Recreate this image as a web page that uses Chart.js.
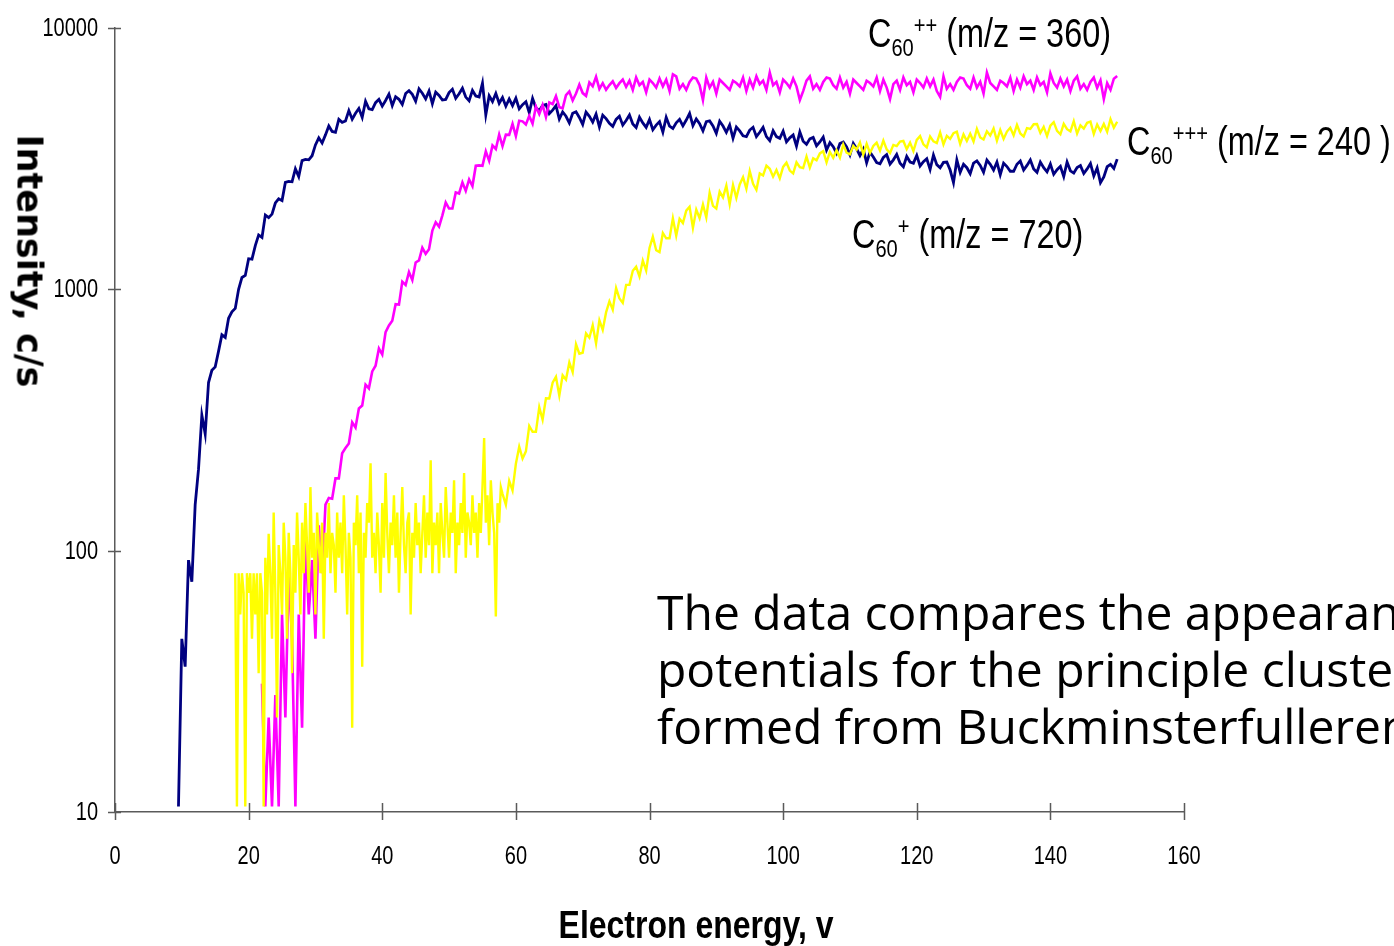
<!DOCTYPE html>
<html>
<head>
<meta charset="utf-8">
<title>C60 appearance potentials</title>
<script src="https://cdn.jsdelivr.net/npm/chart.js@4.4.0/dist/chart.umd.min.js"></script>
<style>
  html, body { margin: 0; padding: 0; background: #fff; overflow: hidden; }
  #wrap { position: relative; width: 1394px; height: 946px; overflow: hidden; }
  #chart { position: absolute; left: 0; top: 0; }
  .ion { position: absolute; font-family: 'Liberation Sans', sans-serif; font-size: 40px; line-height: 1; color: #000; white-space: nowrap; transform: scaleX(0.81); transform-origin: left top; }
  .ion sub, .ion sup { font-size: 62%; line-height: 0; }
  #note { position: absolute; left: 657px; top: 583px; font-family: 'Open Sans', sans-serif; font-size: 48px; line-height: 57px; color: #000; white-space: nowrap; }
  #ytitle { position: absolute; left: 29px; top: 261px; transform: translate(-50%, -50%) rotate(90deg); font-family: 'DejaVu Sans', sans-serif; font-weight: bold; font-size: 35px; line-height: 1; white-space: nowrap; }
  #xtitle { position: absolute; left: 696px; top: 905px; transform: translateX(-50%) scaleX(0.82); font-family: 'Liberation Sans', sans-serif; font-weight: bold; font-size: 39px; line-height: 1; white-space: nowrap; }
</style>
</head>
<body>
<div id="wrap">
  <canvas id="chart" width="1394" height="946"></canvas>
  <div class="ion" style="left:868px; top:13px;">C<sub>60</sub><sup>++</sup> (m/z = 360)</div>
  <div class="ion" style="left:1127px; top:121px;">C<sub>60</sub><sup>+++</sup> (m/z = 240 )</div>
  <div class="ion" style="left:852px; top:214px;">C<sub>60</sub><sup>+</sup> (m/z = 720)</div>
  <div id="note">The data compares the appearance<br>potentials for the principle clusters<br>formed from Buckminsterfullerene</div>
  <div id="ytitle">Intensity, c/s</div>
  <div id="xtitle">Electron energy, v</div>
</div>
<script>
// electron energy sampling (eV): start and step of each block of readings
const singleStart = 9.5;       // C60+, every 0.5 eV
const doubleStart = 22;        // C60++, every 0.5 eV
const tripleLowStart = 18;     // C60+++ noisy threshold part, every 0.25 eV
const tripleHighStart = 58;    // C60+++ from 58 eV on, every 0.5 eV
const coarseStep = 0.5;
const fineStep = 0.25;

const xTicks = [0, 20, 40, 60, 80, 100, 120, 140, 160];
const yTicks = [10, 100, 1000, 10000];

// C60+ (m/z = 720), counts per second
const singleIntensity = [
  10.5, 46, 36, 92, 76, 150, 205, 330, 280, 440,
  490, 505, 580, 670, 655, 775, 820, 845, 1000, 1110,
  1130, 1310, 1305, 1470, 1615, 1580, 1925, 1880, 1940, 2140,
  2220, 2185, 2565, 2590, 2580, 2890, 2700, 3110, 3140, 3130,
  3245, 3570, 3800, 3630, 3900, 4220, 4020, 3990, 4470, 4355,
  4410, 4830, 4475, 4720, 4925, 4550, 5245, 4910, 4870, 5180,
  5335, 5025, 5280, 5585, 5045, 5455, 5335, 5095, 5615, 5755,
  5575, 5245, 5850, 5630, 5355, 5740, 5135, 5685, 5520, 5300,
  5330, 5660, 5830, 5385, 5605, 5885, 5440, 5270, 5770, 5495,
  5450, 6150, 4650, 5500, 5230, 5620, 5150, 5420, 5020, 5350,
  5045, 5385, 4905, 5090, 5220, 4745, 5380, 4950, 4830, 5050,
  5095, 4705, 4850, 5045, 4485, 4775, 4595, 4335, 4715, 4780,
  4545, 4275, 4770, 4590, 4365, 4680, 4185, 4635, 4500, 4320,
  4205, 4470, 4600, 4250, 4425, 4645, 4290, 4160, 4555, 4335,
  4165, 4465, 4080, 4250, 4380, 3995, 4550, 4210, 4125, 4335,
  4470, 4220, 4445, 4715, 4230, 4490, 4305, 4040, 4380, 4410,
  4220, 3950, 4400, 4215, 3985, 4255, 3785, 4180, 4040, 3870,
  3840, 4070, 4170, 3840, 3990, 4165, 3840, 3705, 4045, 3840,
  3785, 4030, 3665, 3800, 3895, 3535, 4000, 3685, 3590, 3765,
  3815, 3540, 3665, 3825, 3410, 3640, 3515, 3320, 3615, 3665,
  3505, 3270, 3615, 3450, 3250, 3440, 3050, 3350, 3210, 3055,
  3025, 3195, 3275, 3015, 3130, 3285, 3040, 2945, 3225, 3070,
  3040, 3255, 2965, 3080, 3160, 2875, 3265, 3000, 2920, 3060,
  3070, 2860, 2560, 3125, 2800, 3010, 2920, 2770, 3040, 3100,
  2980, 2805, 3125, 3010, 2860, 3070, 2745, 3040, 2950, 2830,
  2830, 3010, 3100, 2860, 2980, 3125, 2890, 2805, 3070, 2920,
  2815, 3015, 2755, 2870, 2955, 2700, 3070, 2840, 2785, 2925,
  2975, 2775, 2890, 3030, 2715, 2915, 2560, 2690, 2945, 3005,
  2900, 3150
];

// C60++ (m/z = 360)
const doubleIntensity = [
  31, 10.5, 23, 10.5, 28, 10.5, 57, 23, 82, 46,
  10.5, 57, 21, 116, 57, 92, 46, 125, 82, 150,
  159, 158, 189, 189, 236, 247, 257, 310, 296, 350,
  359, 432, 418, 485, 510, 594, 563, 686, 727, 758,
  877, 874, 1070, 1039, 1165, 1086, 1267, 1290, 1442, 1368,
  1423, 1679, 1806, 1738, 1919, 2149, 2038, 2040, 2350, 2327,
  2565, 2381, 2632, 2484, 2972, 2980, 2968, 3371, 3102, 3554,
  3444, 3910, 3534, 3907, 3901, 4293, 3860, 4420, 4394, 4272,
  4610, 4305, 5008, 4684, 5075, 4563, 5191, 5110, 5491, 4978,
  4929, 5531, 5712, 5280, 5616, 6070, 5635, 5499, 6188, 5990,
  6500, 5850, 6150, 5800, 6050, 6250, 5900, 6150, 6350, 5950,
  6285, 5795, 6465, 6040, 6220, 5675, 6345, 6160, 5915, 6405,
  5980, 6345, 5735, 6650, 6530, 5855, 6100, 5795, 6220, 6465,
  6405, 6040, 5300, 6465, 5915, 6220, 5610, 6345, 6160, 5980,
  5795, 6285, 6160, 5980, 6465, 5735, 6345, 5915, 6530, 6100,
  6285, 5795, 6750, 6040, 6220, 5675, 6345, 6160, 5915, 6405,
  5980, 5300, 5735, 6285, 6530, 5855, 6100, 5795, 6220, 6465,
  6405, 6040, 5855, 6465, 5915, 6220, 5610, 6345, 6160, 5980,
  5795, 6285, 6160, 5980, 6465, 5735, 6345, 5915, 5350, 6100,
  6285, 5795, 6465, 6040, 6220, 5675, 6345, 6160, 5915, 6405,
  5980, 6345, 5735, 5450, 6530, 5855, 6100, 5795, 6220, 6465,
  6405, 6040, 5855, 6465, 5915, 6220, 5610, 6750, 6160, 5980,
  5795, 6285, 6160, 5980, 6465, 5735, 6345, 5915, 6530, 6100,
  6285, 5795, 6465, 6040, 6220, 5675, 6700, 6160, 5915, 6405,
  5980, 6345, 5735, 6285, 6530, 5855, 6100, 5795, 6220, 6465,
  5900, 6300, 5350, 6150, 5800, 6400, 6550
];

// C60+++ (m/z = 240), 18 - 57.75 eV: counts near the threshold
const tripleLowIntensity = [
  82, 10.5, 82, 57, 82, 69, 10.5, 82,
  69, 82, 46, 82, 57, 82, 34, 82,
  69, 10.5, 94, 57, 116, 82, 46, 140,
  69, 23, 105, 82, 57, 128, 94, 46,
  117, 82, 34, 105, 69, 140, 94, 57,
  128, 82, 152, 105, 69, 175, 94, 117,
  57, 140, 105, 82, 128, 46, 117, 94,
  152, 82, 117, 105, 69, 140, 94, 128,
  82, 163, 105, 57, 117, 94, 21, 128,
  105, 163, 82, 140, 36, 117, 94, 152,
  128, 216, 94, 117, 82, 140, 105, 69,
  152, 94, 198, 117, 82, 128, 105, 163,
  94, 140, 69, 117, 175, 105, 82, 128,
  140, 57, 117, 94, 152, 105, 128, 82,
  117, 163, 94, 140, 105, 222, 82, 128,
  105, 140, 82, 152, 117, 94, 175, 128,
  94, 140, 117, 186, 82, 128, 105, 152,
  117, 198, 94, 140, 128, 105, 163, 117,
  140, 94, 152, 117, 175, 270, 128, 163,
  105, 186, 140, 117, 56, 152, 128, 175
];

// C60+++ (m/z = 240), 58 - 150 eV
const tripleHighIntensity = [
  165, 150, 185, 170, 215, 250, 225, 240, 300, 285,
  285, 354, 317, 383, 382, 439, 463, 392, 469, 451,
  525, 482, 616, 567, 572, 678, 653, 729, 621, 761,
  699, 816, 899, 836, 1012, 922, 887, 1040, 1040, 1177,
  1220, 1119, 1288, 1179, 1439, 1590, 1411, 1389, 1643, 1568,
  1568, 1870, 1605, 1862, 1793, 2001, 2071, 1718, 2019, 1871,
  2111, 1884, 2342, 2086, 2037, 2364, 2247, 2495, 2115, 2510,
  2236, 2519, 2686, 2423, 2838, 2532, 2402, 2777, 2727, 2976,
  2893, 2697, 2861, 2660, 2941, 3053, 2847, 2779, 3063, 2935,
  2910, 3222, 2921, 3172, 3119, 3312, 3381, 3060, 3356, 3187,
  3407, 3192, 3583, 3332, 3283, 3543, 3425, 3649, 3281, 3605,
  3325, 3535, 3640, 3395, 3710, 3430, 3325, 3570, 3535, 3675,
  3696, 3439, 3641, 3379, 3729, 3858, 3587, 3496, 3848, 3683,
  3628, 3986, 3586, 3866, 3762, 3962, 4011, 3600, 3917, 3696,
  3937, 3677, 4113, 3812, 3744, 4027, 3881, 4127, 3704, 4069,
  3762, 4015, 4150, 3880, 4256, 3949, 3843, 4141, 4111, 4284,
  4289, 3967, 4182, 3859, 4233, 4362, 4038, 3919, 4295, 4099,
  4021, 4399, 3947, 4243, 4123, 4337, 4384, 3929, 4274, 4032,
  4294, 4009, 4484, 4155, 4378
];

const axisColor = '#5a5a5a';
const tickFont = "25px 'Liberation Sans', sans-serif";
const tickSqueeze = 0.8;

function toPoints(start, step, values) {
    return values.map((v, i) => ({ x: start + i * step, y: v }));
}

// crossing tick marks and narrow tick labels, like the original spreadsheet chart
const crossTicks = {
    id: 'crossTicks',
    beforeDatasetsDraw(chart) {
        const { ctx, scales: { x, y } } = chart;
        ctx.save();
        ctx.strokeStyle = axisColor;
        ctx.lineWidth = 1.5;
        ctx.beginPath();
        xTicks.forEach(v => {
            const px = Math.round(x.getPixelForValue(v)) + 0.5;
            ctx.moveTo(px, y.bottom - 9);
            ctx.lineTo(px, y.bottom + 8);
        });
        yTicks.forEach(v => {
            const py = Math.round(y.getPixelForValue(v)) + 0.5;
            ctx.moveTo(x.left - 7, py);
            ctx.lineTo(x.left + 6, py);
        });
        ctx.stroke();

        ctx.fillStyle = '#000';
        ctx.font = tickFont;
        ctx.textBaseline = 'middle';
        xTicks.forEach(v => {
            ctx.save();
            ctx.translate(x.getPixelForValue(v), 857);
            ctx.scale(tickSqueeze, 1);
            ctx.textAlign = 'center';
            ctx.fillText(String(v), 0, 0);
            ctx.restore();
        });
        yTicks.forEach(v => {
            ctx.save();
            ctx.translate(98, y.getPixelForValue(v) + 1);
            ctx.scale(tickSqueeze, 1);
            ctx.textAlign = 'right';
            ctx.fillText(String(v), 0, 0);
            ctx.restore();
        });
        ctx.restore();
    }
};

new Chart(document.getElementById('chart'), {
    type: 'line',
    data: {
        datasets: [{
            label: 'C60+ (m/z = 720)',
            data: toPoints(singleStart, coarseStep, singleIntensity),
            borderColor: '#000080',
            borderWidth: 2.8,
            order: 3
        }, {
            label: 'C60++ (m/z = 360)',
            data: toPoints(doubleStart, coarseStep, doubleIntensity),
            borderColor: '#ff00ff',
            borderWidth: 2.6,
            order: 2
        }, {
            label: 'C60+++ (m/z = 240)',
            data: toPoints(tripleLowStart, fineStep, tripleLowIntensity)
                .concat(toPoints(tripleHighStart, coarseStep, tripleHighIntensity)),
            borderColor: '#ffff00',
            borderWidth: 2.4,
            order: 1
        }]
    },
    options: {
        responsive: false,
        animation: false,
        events: [],
        layout: { padding: { left: 0, top: 28, right: 210, bottom: 0 } },
        elements: {
            point: { radius: 0 },
            line: { tension: 0, borderJoinStyle: 'miter' }
        },
        plugins: { legend: { display: false }, tooltip: { enabled: false } },
        scales: {
            x: {
                type: 'linear',
                min: 0,
                max: 160,
                afterBuildTicks: s => { s.ticks = xTicks.map(v => ({ value: v })); },
                afterFit: s => { s.height = 134; },
                grid: { display: false, drawTicks: false },
                border: { display: true, color: axisColor, width: 1.5 },
                ticks: { display: false }
            },
            y: {
                type: 'logarithmic',
                min: 10,
                max: 10000,
                afterBuildTicks: s => { s.ticks = yTicks.map(v => ({ value: v })); },
                afterFit: s => { s.width = 115; },
                grid: { display: false, drawTicks: false },
                border: { display: true, color: axisColor, width: 1.5 },
                ticks: { display: false }
            }
        }
    },
    plugins: [crossTicks]
});
</script>
</body>
</html>
